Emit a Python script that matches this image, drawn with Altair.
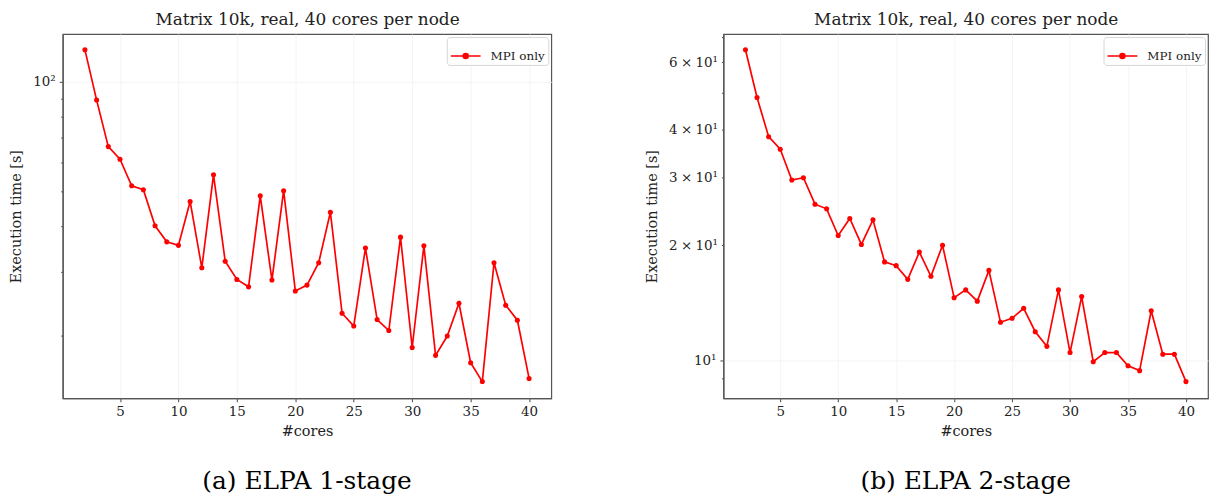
import altair as alt
import pandas as pd

cores = list(range(2, 41))
elpa1_time = [122.6, 89.1, 66.3, 61.2, 51.7, 50.4, 40.1, 36.2, 35.4, 46.8,
              30.7, 55.4, 32.0, 28.5, 27.2, 48.5, 28.4, 50.1, 26.5, 27.5,
              31.7, 43.7, 23.0, 21.2, 34.8, 22.1, 20.6, 37.3, 18.5, 35.3,
              17.6, 19.9, 24.5, 16.8, 14.9, 31.7, 24.2, 22.0, 15.2]
elpa2_time = [64.7, 48.6, 38.4, 35.6, 29.6, 30.0, 25.6, 24.9, 21.2, 23.5,
              20.1, 23.3, 18.1, 17.7, 16.3, 19.2, 16.6, 20.0, 14.6, 15.3,
              14.3, 17.2, 12.6, 12.9, 13.7, 11.9, 10.9, 15.3, 10.5, 14.7,
              9.94, 10.5, 10.5, 9.7, 9.42, 13.5, 10.4, 10.4, 8.82]
series_name = "MPI only"
x_ticks = [5, 10, 15, 20, 25, 30, 35, 40]
y1_ticks = [20, 30, 40, 50, 60, 70, 80, 90, 100]
y2_ticks = [9, 10, 20, 30, 40, 50, 60, 70]
panel_title = "Matrix 10k, real, 40 cores per node"
captions = ["(a) ELPA 1-stage", "(b) ELPA 2-stage"]

FONT = "DejaVu Serif"
TXT = "#222222"
AX = "#555555"
GRID = "#f4f4f4"

legend_path = ("M-1,0L1,0M0.17,0A0.17,0.17,0,1,1,-0.17,0"
               "A0.17,0.17,0,1,1,0.17,0Z")


def panel(values, ydomain, yticks, major, label_expr, width, caption):
    df = pd.DataFrame({"cores": cores, "time": values,
                       "series": [series_name] * len(cores)})
    xscale = alt.Scale(domain=[0.1, 41.9], nice=False, zero=False)
    yenc = alt.Y("time:Q",
                 scale=alt.Scale(type="log", domain=ydomain, nice=False),
                 axis=alt.Axis(values=yticks, title="Execution time [s]",
                               labelExpr=label_expr, labelOverlap=False,
                               tickSize={"condition": {"test": f"datum.value === {major}", "value": 3.5}, "value": 2},
                               gridOpacity={"condition": {"test": f"datum.value === {major}", "value": 1}, "value": 0},
                               gridColor=GRID, labelPadding=4, titlePadding=9))
    color = alt.Color("series:N", scale=alt.Scale(range=["red"]),
                      legend=alt.Legend(title=None, orient="top-right",
                                        offset=3, symbolType=legend_path,
                                        symbolSize=900, symbolStrokeWidth=1.5,
                                        symbolFillColor="red", symbolStrokeColor="red",
                                        labelFont=FONT, labelFontSize=12,
                                        labelColor=TXT, labelOffset=9,
                                        strokeColor="#d6d6d6", fillColor="white",
                                        padding=3, cornerRadius=3))
    line = alt.Chart(df).mark_line(strokeWidth=1.7).encode(
        x=alt.X("cores:Q", scale=xscale,
                axis=alt.Axis(values=x_ticks, title="#cores",
                              tickSize=3.5, labelPadding=3, titlePadding=6,
                              gridColor=GRID, gridWidth=1)),
        y=yenc, color=color)
    pts = alt.Chart(df).mark_point(filled=True, size=26, opacity=1).encode(
        x=alt.X("cores:Q", scale=xscale,
                axis=alt.Axis(orient="top", title=panel_title, labels=False,
                              ticks=False, domain=False, grid=False,
                              titleFontSize=17, titlePadding=6)),
        y=yenc, color=color)
    return alt.layer(line, pts).resolve_axis(x="independent").properties(
        width=width, height=366,
        title=alt.TitleParams(caption, orient="bottom", anchor="middle",
                              frame="group", baseline="top",
                              font=FONT, fontSize=25, dx=0,
                              fontWeight="normal", color="black", offset=32))


left_expr = "datum.value === 100 ? '10\u00b2' : ''"
right_expr = ("datum.value === 10 ? '10\u00b9' : "
              "(datum.value === 20 || datum.value === 30 || datum.value === 40 || datum.value === 60) "
              "? (datum.value / 10) + '\u2005\u00d7\u200510\u00b9' : ''")

p1 = panel(elpa1_time, [13.4, 135.5], y1_ticks, 100, left_expr, 491, captions[0])
p2 = panel(elpa2_time, [7.98, 71.1], y2_ticks, 10, right_expr, 487, captions[1])

chart = alt.hconcat(p1, p2, spacing=92).resolve_scale(
    color="independent").resolve_legend(color="independent").properties(
    padding=0).configure_axis(
    labelFont=FONT, titleFont=FONT, labelFontSize=13.5, titleFontSize=14.5,
    labelColor=TXT, titleColor=TXT, titleFontWeight="normal",
    domainColor=AX, tickColor=AX, domainWidth=1.2, tickWidth=1.1
).configure_view(stroke=AX, strokeWidth=1.2)

chart.save("out.html", embed_options={"renderer": "svg", "actions": False})
